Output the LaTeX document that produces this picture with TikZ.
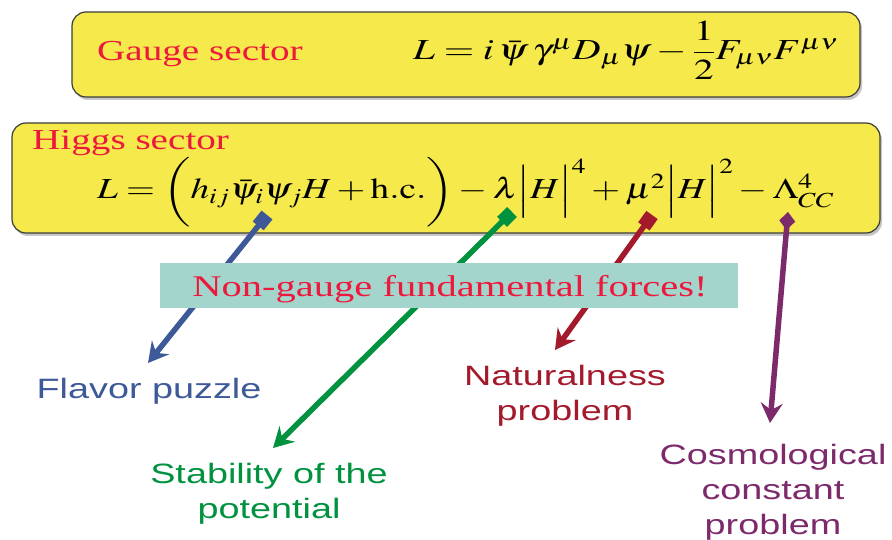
\documentclass[tikz,border=0pt]{standalone}
\usepackage{mathptmx}
\usepackage{fontspec}
\setmainfont{Liberation Serif}
\newfontfamily\arialf{Liberation Sans}
\usetikzlibrary{arrows.meta,shadows}
\definecolor{boxyellow}{RGB}{245,233,75}
\definecolor{boxedge}{RGB}{60,60,60}
\definecolor{tealfill}{RGB}{163,213,204}
\definecolor{titlered}{RGB}{237,25,60}
\definecolor{flavblue}{RGB}{62,89,152}
\definecolor{stabgreen}{RGB}{0,146,63}
\definecolor{natred}{RGB}{163,26,44}
\definecolor{cospurple}{RGB}{125,42,108}
\newcommand{\hstr}[1]{\scalebox{1.35}[1]{#1}}
\newcommand{\hstrb}[1]{\scalebox{1.28}[1]{#1}}
\begin{document}
\begin{tikzpicture}[x=1pt,y=-1pt,
  sectorbox/.style={draw=boxedge, line width=1.2pt, fill=boxyellow, rounded corners=14pt,
    drop shadow={shadow xshift=2pt, shadow yshift=-3pt, opacity=0.45}, inner sep=0pt},
  tealbox/.style={fill=tealfill, draw=none, inner sep=0pt},
  titletext/.style={font=\fontsize{29}{35}\selectfont, text=titlered, inner sep=0pt},
  bannerfont/.style={font=\fontsize{30}{36}\selectfont, text=titlered, inner sep=0pt},
  mathtext/.style={font=\fontsize{29}{35}\selectfont, inner sep=0pt},
  labeltext/.style={font=\arialf\fontsize{28}{35}\selectfont, inner sep=0pt, align=center},
  pointer/.style={line width=5.5pt, {Square[length=14pt,width=14pt]}-{Stealth[length=20pt,width=22pt,inset=7pt]}},
  dpointer/.style={line width=5.5pt, {Diamond[length=18pt,width=16pt]}-{Stealth[length=20pt,width=22pt,inset=7pt]}}
]
\useasboundingbox (0,0) rectangle (892,540);

% boxes
\node[sectorbox, minimum width=788pt, minimum height=85pt] (gauge) at (466,54.5) {};
\node[sectorbox, minimum width=868pt, minimum height=110pt] (higgs) at (446,178) {};

% texts in boxes
\node[titletext, anchor=base west] (gaugetitle) at (97,61) {\hstr{Gauge sector}};
\node[mathtext, anchor=base west] (gaugeeq) at (413,60)
  {\hstr{$L = i\,\bar\psi\,\gamma^\mu D_\mu\psi - {\displaystyle\frac{1}{2}}F_{\mu\nu}F^{\mu\nu}$}};
\node[titletext, anchor=base west] (higgstitle) at (32,150) {\hstr{Higgs sector}};
\node[mathtext, anchor=base west] (higgseq) at (97,199)
  {\hstrb{$L = \biggl(h_{ij}\bar\psi_i\psi_j H + \mathrm{h.c.}\biggr) - \lambda\Bigl|H\Bigr|^4 + \mu^2\Bigl|H\Bigr|^2 - \Lambda_{CC}^4$}};

% arrow end points
\coordinate (bS) at (267,215);
\coordinate (bE) at (148,363);
\coordinate (gS) at (512,212);
\coordinate (gE) at (273,448);
\coordinate (rS) at (652,215);
\coordinate (rE) at (555,350);
\coordinate (pS) at (788,212);
\coordinate (pE) at (770,423);

\draw[pointer, flavblue] (bS) -- (bE);
\draw[pointer, stabgreen] (gS) -- (gE);
\draw[pointer, natred] (rS) -- (rE);
\draw[dpointer, cospurple] (pS) -- (pE);

% teal banner
\node[tealbox, minimum width=578pt, minimum height=45pt] (banner) at (449,285.5) {};
\node[bannerfont, anchor=base] (bannertext) at (450,296) {\hstr{Non-gauge fundamental forces!}};

% labels
\node[labeltext, text=flavblue, anchor=north] (flavor) at (149,378) {\hstr{Flavor puzzle}};
\node[labeltext, text=natred, anchor=north] (natural) at (565,365) {\hstr{Naturalness}\\\hstr{problem}};
\node[labeltext, text=stabgreen, anchor=north] (stab) at (269,463) {\hstr{Stability of the}\\\hstr{potential}};
\node[labeltext, text=cospurple, anchor=north] (cosmo) at (773,444) {\hstr{Cosmological}\\\hstr{constant}\\\hstr{problem}};
\end{tikzpicture}
\end{document}
